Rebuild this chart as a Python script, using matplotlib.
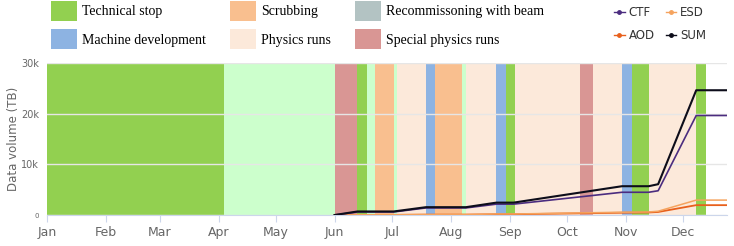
import matplotlib
matplotlib.use("Agg")
import matplotlib.pyplot as plt
import matplotlib.dates as mdates
from matplotlib.patches import Patch
from matplotlib.lines import Line2D
from matplotlib.ticker import FuncFormatter
import pandas as pd

# run schedule (bands)
band_start = ["2023-01-01", "2023-04-04", "2023-06-01", "2023-06-13", "2023-06-18",
              "2023-06-22", "2023-07-02", "2023-07-04", "2023-07-19", "2023-07-24",
              "2023-08-07", "2023-08-09", "2023-08-25", "2023-08-30", "2023-09-04",
              "2023-10-08", "2023-10-15", "2023-10-30", "2023-11-04", "2023-11-13",
              "2023-12-08"]
band_end = ["2023-04-04", "2023-06-01", "2023-06-13", "2023-06-18", "2023-06-22",
            "2023-07-02", "2023-07-04", "2023-07-19", "2023-07-24", "2023-08-07",
            "2023-08-09", "2023-08-25", "2023-08-30", "2023-09-04", "2023-10-08",
            "2023-10-15", "2023-10-30", "2023-11-04", "2023-11-13", "2023-12-08",
            "2023-12-13"]
band_phase = ["tech", "commiss", "special", "tech", "commiss",
              "scrub", "commiss", "physics", "md", "scrub",
              "commiss", "physics", "md", "tech", "physics",
              "special", "physics", "md", "tech", "physics",
              "tech"]

phase_colors = {"tech": "#92d050", "commiss": "#ccffcc", "scrub": "#f9bf8f",
                "md": "#8db3e2", "physics": "#fce9da", "special": "#d99694"}

legend_labels = ["Technical stop", "Machine development", "Scrubbing", "Physics runs",
                 "Recommissoning with beam", "Special physics runs"]
legend_colors = ["#92d050", "#8db3e2", "#f9bf8f", "#fce9da", "#b3c3c3", "#d99694"]

# cumulative data volume (TB)
dates = ["2023-06-01", "2023-06-13", "2023-07-02", "2023-07-19", "2023-08-09", "2023-08-25",
         "2023-09-03", "2023-10-30", "2023-11-13", "2023-11-18", "2023-12-08", "2023-12-24"]
ctf = [0, 600, 600, 1400, 1400, 2150, 2150, 4500, 4500, 4800, 19700, 19700]
esd = [0, 50, 50, 100, 100, 200, 200, 550, 600, 750, 2950, 2950]
aod = [0, 30, 30, 70, 70, 150, 150, 450, 500, 600, 1950, 1950]
total = [0, 700, 700, 1550, 1550, 2450, 2450, 5700, 5700, 6100, 24700, 24700]

x = pd.to_datetime(dates)

fig = plt.figure(figsize=(7.34, 2.46), dpi=100)
ax = fig.add_axes([0.0644, 0.126, 0.9256, 0.616])

for s, e, p in zip(band_start, band_end, band_phase):
    ax.axvspan(pd.Timestamp(s), pd.Timestamp(e), color=phase_colors[p], lw=0, zorder=1)

ax.plot(x, aod, color="#e8601c", lw=1.3, zorder=3)
ax.plot(x, esd, color="#f5a35e", lw=1.1, zorder=3)
ax.plot(x, ctf, color="#4b2c7f", lw=1.2, zorder=3)
ax.plot(x, total, color="#0d0d1a", lw=1.5, zorder=4)

ax.set_xlim(pd.Timestamp("2023-01-01"), pd.Timestamp("2023-12-24"))
ax.set_ylim(0, 30000)
ax.set_yticks([0, 10000, 20000, 30000])
ax.yaxis.set_major_formatter(FuncFormatter(lambda v, p: "0" if v == 0 else "%dk" % (v / 1000)))
ax.xaxis.set_major_locator(mdates.MonthLocator())
ax.xaxis.set_major_formatter(mdates.DateFormatter("%b"))

ax.grid(axis="y", color="#e6e6e6", lw=1)
ax.grid(axis="x", visible=False)
for sp in ["top", "right", "left"]:
    ax.spines[sp].set_visible(False)
ax.spines["bottom"].set_color("#ccd6eb")
ax.tick_params(axis="x", colors="#ccd6eb", length=5, labelcolor="#666666", labelsize=9, pad=3)
ax.tick_params(axis="y", length=0, labelcolor="#666666", labelsize=7, pad=6)
ax.get_yticklabels()[0].set_fontsize(5)
ax.set_ylabel("Data volume (TB)", color="#666666", fontsize=8.5, labelpad=1)

handles = [Patch(facecolor=c, edgecolor="none") for c in legend_colors]
fig.legend(handles, legend_labels, ncol=3, loc="upper left", bbox_to_anchor=(0.069, 1.0),
           frameon=False, prop={"family": "Liberation Serif", "size": 10},
           handlelength=1.87, handleheight=1.9, handletextpad=0.35,
           columnspacing=1.75, labelspacing=0.55, borderpad=0.05, borderaxespad=0)

line_handles = [Line2D([], [], color=c, lw=1, marker="o", markersize=2.5)
                for c in ["#4b2c7f", "#e8601c", "#f5a35e", "#0d0d1a"]]
fig.legend(line_handles, ["CTF", "AOD", "ESD", "SUM"], ncol=2, loc="upper left",
           bbox_to_anchor=(0.835, 0.979), frameon=False,
           prop={"size": 8.5}, labelcolor="#333333",
           handlelength=0.9, handletextpad=0.35, columnspacing=0.9,
           labelspacing=0.8, borderpad=0.1, borderaxespad=0)

fig.savefig("out.png", dpi=100)
